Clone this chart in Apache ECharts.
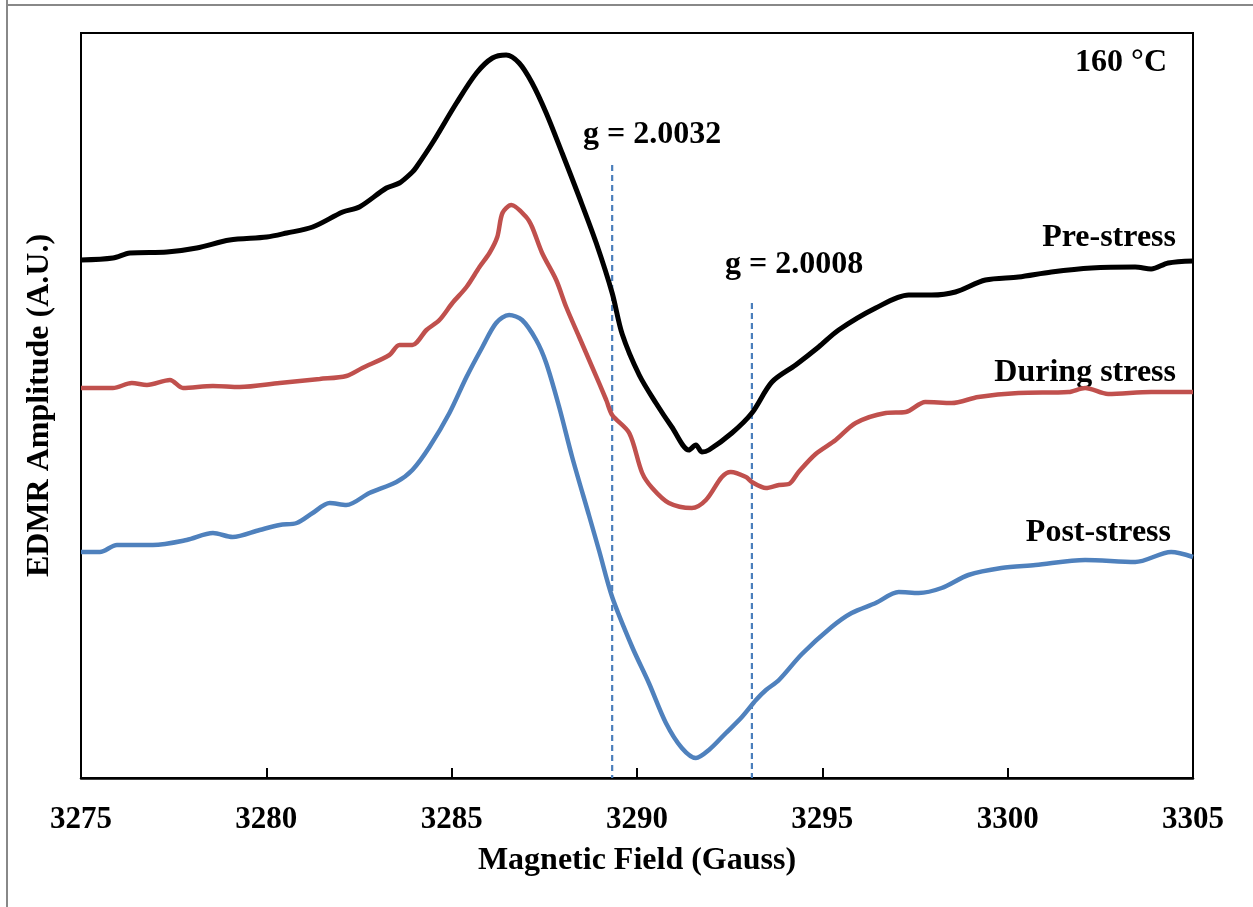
<!DOCTYPE html>
<html>
<head>
<meta charset="utf-8">
<script src="https://cdn.jsdelivr.net/npm/echarts@6/dist/echarts.min.js"></script>
<style>
html,body{margin:0;padding:0;background:#fff;}
#chart{width:1253px;height:907px;}
</style>
</head>
<body>
<div id="chart"></div>
<script>
// Magnetic field (Gauss) and EDMR amplitude (A.U.) pairs
const preStress = [
[3275.00,518],[3275.86,520],[3276.32,525],[3277.32,526],[3278.12,530],[3279.01,538],[3280.01,541],
[3280.55,545],[3281.25,551],[3282.06,566],[3282.51,571],[3283.24,590],[3283.59,595],[3283.94,606],
[3284.05,611],[3284.48,635],[3285.13,675],[3285.67,705],[3286.10,720],[3286.47,723],[3286.82,715],
[3287.17,695],[3287.55,665],[3287.98,625],[3288.44,581],[3288.90,535],[3289.33,485],[3289.60,444],
[3290.06,403],[3290.51,375],[3290.94,351],[3291.40,328],[3291.59,333],[3291.75,326],[3291.94,328],
[3292.56,345],[3293.10,365],[3293.64,396],[3294.28,413],[3294.90,431],[3295.44,448],[3296.44,470],
[3297.33,483],[3297.95,483],[3298.59,486],[3299.40,498],[3300.29,501],[3301.18,506],[3302.26,510],
[3303.44,511],[3303.87,509],[3304.33,515],[3305.00,517]
];
const duringStress = [
[3275.00,390],[3275.86,390],[3276.37,395],[3276.78,393],[3277.40,398],[3277.75,390],[3278.56,392],
[3279.28,391],[3280.36,395],[3281.44,399],[3282.16,402],[3282.59,410],[3283.32,423],[3283.59,433],
[3283.94,433],[3284.32,448],[3284.67,458],[3285.02,475],[3285.40,491],[3285.75,511],[3286.02,525],
[3286.23,541],[3286.37,565],[3286.61,573],[3287.01,561],[3287.17,551],[3287.44,525],[3287.82,498],
[3288.09,471],[3288.44,441],[3288.79,411],[3289.17,378],[3289.33,363],[3289.79,345],[3290.14,305],
[3290.41,290],[3290.86,275],[3291.48,270],[3291.86,278],[3292.29,301],[3292.53,306],[3292.94,301],
[3293.10,296],[3293.48,290],[3293.83,293],[3294.10,294],[3294.36,306],[3294.82,324],[3295.36,338],
[3295.90,355],[3296.71,365],[3297.25,366],[3297.78,376],[3298.49,375],[3299.21,381],[3300.29,385],
[3301.64,386],[3302.09,390],[3302.71,384],[3303.87,386],[3305.00,386]
];
const postStress = [
[3275.00,226],[3275.51,226],[3275.97,233],[3276.94,233],[3277.85,238],[3278.56,245],[3279.09,241],
[3279.82,248],[3280.36,253],[3280.82,255],[3281.25,265],[3281.71,275],[3282.16,273],[3282.78,285],
[3283.51,296],[3283.94,308],[3284.40,331],[3284.94,365],[3285.40,401],[3285.83,431],[3286.20,455],
[3286.55,463],[3286.90,458],[3287.28,438],[3287.55,415],[3287.90,371],[3288.25,321],[3288.71,262],
[3288.98,227],[3289.33,181],[3289.87,131],[3290.32,95],[3290.78,55],[3291.21,30],[3291.59,20],
[3291.94,28],[3292.40,45],[3292.83,61],[3293.21,78],[3293.48,88],[3293.83,98],[3294.45,124],
[3295.25,151],[3295.79,165],[3296.44,175],[3297.06,186],[3297.60,185],[3298.22,190],[3298.94,203],
[3299.83,210],[3300.75,213],[3302.09,218],[3303.44,216],[3304.41,226],[3305.00,221]
];
// g-value marker lines: field position and top amplitude
const gMarkers = [
  {label:'g = 2.0032', field:3289.33, top:613},
  {label:'g = 2.0008', field:3293.10, top:475}
];
const seriesNames = ['Pre-stress','During stress','Post-stress'];
const xTicks = [3275,3280,3285,3290,3295,3300,3305];

const FONT = '"Liberation Serif","Times New Roman",serif';
const chart = echarts.init(document.getElementById('chart'), null, {renderer:'canvas'});

const curveStyle = [
  {color:'#000000', width:5},
  {color:'#C0504D', width:4.5},
  {color:'#4F81BD', width:4.5}
];
const curves = [preStress, duringStress, postStress].map((d,i)=>({
  name: seriesNames[i], type:'line', data:d, showSymbol:false, smooth:0.3,
  lineStyle:{color:curveStyle[i].color, width:curveStyle[i].width},
  itemStyle:{color:curveStyle[i].color}, z:3, animation:false
}));
const markerSeries = gMarkers.map(m=>({
  name:m.label, type:'line', data:[[m.field,m.top],[m.field,0]], showSymbol:false,
  lineStyle:{color:'#4A7EBB', width:2.2, type:[6,4]}, z:2, animation:false
}));

function txt(text, x, y, align){
  return {type:'text', style:{text:text, x:x, y:y, textAlign:align, textVerticalAlign:'middle',
    font:'bold 32px '+FONT, fill:'#000'}, silent:true};
}

chart.setOption({
  animation:false,
  backgroundColor:'#ffffff',
  grid:{left:81, right:60, top:33, bottom:129, show:true, borderColor:'#000', borderWidth:2, backgroundColor:'transparent'},
  xAxis:{
    type:'value', min:3275, max:3305, interval:5,
    name:'Magnetic Field (Gauss)', nameLocation:'middle', nameGap:67,
    nameTextStyle:{fontFamily:FONT, fontWeight:'bold', fontSize:32, color:'#000'},
    axisLine:{show:true, lineStyle:{color:'#000', width:2.5}},
    axisTick:{show:true, inside:true, length:10, lineStyle:{color:'#000', width:2}},
    axisLabel:{fontFamily:FONT, fontWeight:'bold', fontSize:31, color:'#000', margin:26,
      formatter:v=>xTicks.includes(v)?String(v):''},
    splitLine:{show:false}
  },
  yAxis:{
    type:'value', min:0, max:745,
    name:'EDMR Amplitude (A.U.)', nameLocation:'middle', nameGap:25,
    nameTextStyle:{fontFamily:FONT, fontWeight:'bold', fontSize:32, color:'#000'},
    axisLine:{show:true, lineStyle:{color:'#000', width:2}},
    axisTick:{show:false}, axisLabel:{show:false}, splitLine:{show:false}
  },
  series: curves.concat(markerSeries),
  graphic:[
    {type:'line', shape:{x1:7,y1:0,x2:7,y2:907}, style:{stroke:'#888', lineWidth:2}, silent:true},
    {type:'line', shape:{x1:6,y1:5,x2:1253,y2:5}, style:{stroke:'#888', lineWidth:2}, silent:true},
    txt('160 °C', 1167, 63, 'right'),
    txt(seriesNames[0], 1176, 238, 'right'),
    txt(seriesNames[1], 1176, 373, 'right'),
    txt(seriesNames[2], 1171, 533, 'right'),
    txt(gMarkers[0].label, 583, 135, 'left'),
    txt(gMarkers[1].label, 725, 265, 'left')
  ]
});
</script>
</body>
</html>
